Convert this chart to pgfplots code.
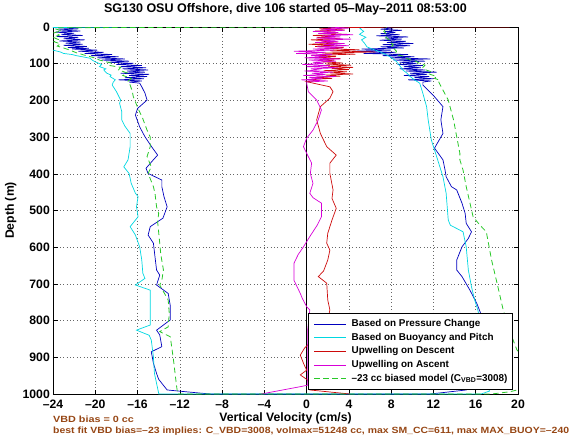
\documentclass[border=0pt]{standalone}
\usepackage{pgfplots}
\pgfplotsset{compat=1.18}
\usepackage{graphicx}
\usepackage{fontspec}
\setmainfont{Liberation Sans}
\definecolor{cBlue}{RGB}{0,0,190}
\definecolor{cCyan}{RGB}{0,215,225}
\definecolor{cRed}{RGB}{205,10,10}
\definecolor{cMag}{RGB}{215,0,215}
\definecolor{cGreen}{RGB}{40,200,40}
\definecolor{cBrown}{RGB}{150,70,20}
\begin{document}
\begin{tikzpicture}
\begin{axis}[
  scale only axis, width=465pt, height=367pt,
  xmin=-24, xmax=20, ymin=0, ymax=1000, y dir=reverse,
  xtick={-24,-20,-16,-12,-8,-4,0,4,8,12,16,20},
  xticklabels={–24,–20,–16,–12,–8,–4,0,4,8,12,16,20},
  ytick={0,100,200,300,400,500,600,700,800,900,1000},
  /pgf/number format/assume math mode=true,
  /pgf/number format/1000 sep={},
  grid=major,
  major grid style={black!60, line width=0.5pt, dash pattern=on 0.8pt off 2.6pt},
  tick align=inside, major tick length=4.5pt,
  tick style={black, line width=0.6pt},
  axis line style={black, line width=0.8pt},
  ticklabel style={font=\fontsize{12.2}{13}\selectfont\bfseries},
  xticklabel style={anchor=base, yshift=-14.3pt, inner sep=0pt},
  yticklabel style={anchor=east, inner sep=0pt, xshift=-3pt},
  xlabel={Vertical Velocity (cm/s)},
  ylabel={Depth (m)},
  label style={font=\fontsize{12.2}{13}\selectfont\bfseries},
  xlabel style={at={(axis description cs:0.5,-0.0755)}, anchor=base},
  ylabel style={at={(axis description cs:-0.0839,0.5)}, anchor=base, rotate=0},
  title={SG130 OSU Offshore, dive 106 started 05–May–2011 08:53:00},
  title style={font=\fontsize{12.5}{13}\selectfont\bfseries, at={(axis description cs:0.5,1.0237)}, anchor=base},
  legend style={at={(rel axis cs:0.989,0.2207)}, anchor=north east, draw=black, line width=0.6pt, fill=white,
    font=\fontsize{9.9}{10}\selectfont\bfseries, inner xsep=5.2pt, inner ysep=4pt, row sep=0pt, column sep=5pt,
    nodes={inner xsep=0pt, inner ysep=2.3pt, text height=7pt, text depth=2pt}},
  legend cell align=left,
  legend image code/.code={\draw[#1] (0pt,0pt) -- (32pt,0pt);},
]
\addplot[black, line width=0.8pt, forget plot] coordinates {(0,0) (0,1000)};
% Based on Pressure Change
\addplot[cBlue, line width=0.7pt] coordinates {
(-22.5,0) (-23.8,2) (-21.6,5) (-23.5,8) (-21.4,11) (-23.8,14) (-22.0,17) (-23.2,20) (-21.2,23) (-23.6,26) (-21.6,29) (-23.0,32) (-21.0,35) (-23.4,38) (-21.4,41) (-22.8,44) (-21.2,47) (-23.0,50) (-20.8,53) (-22.6,56) (-20.6,58)
(-22.2,60) (-19.8,63) (-21.6,66) (-19.2,69) (-21.0,72) (-18.4,75) (-20.4,78) (-17.8,81) (-19.8,84) (-17.2,87) (-19.4,90) (-16.8,93) (-18.8,96) (-16.4,99)
(-18.0,102) (-15.6,105) (-17.6,108) (-15.2,111) (-17.4,114) (-15.0,117) (-17.0,120) (-15.3,123) (-17.6,126) (-14.9,129) (-16.8,132) (-15.1,135) (-17.2,138) (-15.4,141) (-17.8,144) (-15.6,147) (-16.8,150) (-15.8,153)
(-15.6,163) (-15.3,180) (-15.1,199) (-16.0,222) (-16.2,240) (-15.8,272) (-15.3,299) (-14.7,325) (-14.1,349) (-14.6,365) (-15.2,385) (-15.0,399) (-13.7,417) (-13.7,435) (-13.5,462) (-13.2,490) (-13.6,521) (-14.8,544) (-15.0,567) (-14.5,589) (-14.35,626) (-14.2,662) (-13.9,676) (-14.2,703) (-13.1,726) (-12.9,760) (-12.9,798) (-14.2,826) (-13.9,839) (-13.7,871) (-14.7,885) (-14.5,916) (-14.2,944) (-14.0,960) (-13.2,989) (-9.9,998) (-9.0,1000)
(11.7,1000) (15.1,989) (16.0,970) (16.5,900) (16.8,850) (16.7,798) (16.4,775) (16.1,753) (15.45,717) (14.7,680) (14.2,662) (14.2,635) (14.7,599) (15.3,576) (15.6,558) (15.1,535) (15.0,508) (14.7,480) (14.2,444) (13.7,435) (13.2,408) (13.1,390) (12.9,362) (12.1,330) (12.9,290) (12.7,253) (12.9,217) (12.1,190) (11.0,158) (11.0,150)
(11.8,147) (9.6,144) (12.0,141) (10.2,138) (11.6,135) (9.2,132) (11.4,129) (9.8,126) (12.3,123) (9.4,120) (11.2,117) (8.8,114) (10.8,111) (9.2,108) (11.0,105) (8.6,102) (10.4,99) (8.8,96) (11.2,93) (8.2,90) (11.7,87) (7.9,84) (10.2,81) (7.2,78) (9.6,75) (5.4,72) (8.4,69) (4.4,66) (8.0,63) (5.2,60) (9.2,57) (7.0,54) (9.8,51) (7.2,48) (10.1,45) (7.6,42) (9.4,39) (6.9,36) (9.0,33) (7.4,30) (9.6,27) (6.6,24) (8.8,21) (7.0,18) (8.4,15) (7.4,12) (9.0,9) (7.0,6) (8.0,3) (7.5,0)
};
\addlegendentry{Based on Pressure Change}
% Based on Buoyancy and Pitch
\addplot[cCyan, line width=0.7pt] coordinates {
(-16,0) (-28,2) (-27,30) (-25,55) (-24.3,60) (-24.0,63) (-23.3,68) (-23.0,72) (-22.2,75) (-21.8,78) (-20.5,85) (-20.3,90) (-20.0,95) (-19.4,102) (-19.6,108) (-19.0,114) (-19.2,117) (-18.9,126) (-18.5,131) (-18.6,135) (-18.1,144) (-18.3,150) (-18.4,158) (-18.0,176) (-17.6,199) (-17.7,208) (-17.5,230) (-17.5,253) (-17.2,270) (-16.7,290) (-16.7,326) (-16.9,362) (-17.3,381) (-16.8,399) (-16.6,426) (-16.2,453) (-15.95,462) (-16.1,490) (-15.95,517) (-16.7,544) (-16.2,567) (-15.8,599) (-15.6,635) (-15.5,671) (-15.3,685) (-16.2,703) (-14.8,717) (-14.8,789) (-14.8,812) (-16.1,826) (-14.9,840) (-14.7,853) (-14.5,898) (-14.4,944) (-14.0,998) (-14.0,1000)
(16.5,1000) (17.3,992) (17.0,960) (16.8,900) (16.6,850) (16.4,800) (16.2,771) (15.9,744) (15.6,708) (15.3,662) (15.1,599) (14.8,558) (13.6,540) (13.4,526) (13.2,453) (12.9,408) (12.8,399) (12.4,362) (11.8,308) (11.5,253) (11.35,217) (11.0,181) (10.7,153) (10.2,144) (9.8,135) (9.5,126) (9.1,117) (8.8,105) (8.5,94) (7.9,81) (7.4,74) (6.9,67) (6.2,60) (5.7,54) (5.5,45) (5.2,35) (5.6,28) (5.0,20) (5.4,12) (5.05,4) (5.3,0)
};
\addlegendentry{Based on Buoyancy and Pitch}
% Upwelling on Descent
\addplot[cRed, line width=0.7pt] coordinates {
(19.2,0) (7.5,0.3) (3.0,2) (1.2,5) (3.6,8) (0.8,11) (2.8,14) (1.5,17) (3.8,20) (0.6,23) (2.5,26) (1.0,29) (3.2,32) (0.4,35) (2.2,38) (1.4,41) (3.0,44) (0.2,47) (2.6,50) (0.8,53) (3.5,56) (1.8,59) (5.0,62) (2.2,65) (6.5,68) (1.5,71) (4.6,74) (0.5,77) (2.8,80) (0.9,83) (3.2,86) (1.2,89) (2.6,92) (1.5,95) (3.4,98) (1.8,101) (4.2,104) (2.0,107) (4.4,110) (2.4,113) (4.0,116) (1.6,119) (3.8,122) (2.2,125) (4.4,128) (1.8,131) (3.2,134) (0.8,137) (2.4,140) (0.2,143) (1.2,146) (0.0,149)
(2.2,163) (2.5,176) (2.2,194) (1.3,217) (0.95,253) (1.3,290) (1.9,326) (2.8,349) (2.2,371) (2.2,399) (2.5,444) (2.4,467) (2.8,494) (2.4,526) (2.0,562) (1.9,589) (2.2,608) (2.0,635) (1.6,665) (1.1,680) (1.9,698) (2.0,744) (2.2,771) (2.0,800) (1.4,830) (0.5,855) (-0.2,875) (-0.6,894) (-0.3,916) (0.0,935) (-0.6,948) (0.1,962) (0.2,975) (0.3,989) (4.1,1000)
};
\addlegendentry{Upwelling on Descent}
% Upwelling on Ascent
\addplot[cMag, line width=0.7pt] coordinates {
(-4.3,1000) (-0.6,980) (0.1,976) (0.1,900) (0.1,826) (0.3,771) (0.0,762) (-0.4,740) (-0.6,726) (-0.9,708) (-1.2,690) (-1.2,660) (-1.2,644) (-0.8,620) (-0.3,599) (0.3,571) (1.0,540) (1.4,517) (1.4,480) (0.6,465) (0.3,453) (0.6,426) (0.35,399) (0.47,371) (0.0,344) (-0.3,326) (0.0,303) (0.6,281) (1.1,253) (1.4,226) (0.95,199) (0.16,176) (0.0,153)
(0.0,150) (2.0,147) (-0.5,144) (1.5,141) (0.2,138) (2.8,135) (-0.3,132) (1.8,129) (0.5,126) (2.5,123) (-0.2,120) (1.2,117) (0.4,114) (3.0,111) (0.0,108) (2.2,105) (-0.4,102) (1.6,99) (0.6,96) (2.8,93) (0.2,90) (3.2,87) (-0.2,84) (2.0,81) (0.4,78) (2.4,75) (-1.0,72) (1.8,69) (-1.2,66) (2.6,63) (0.6,60) (3.4,57) (1.0,54) (4.0,51) (1.6,48) (3.6,45) (0.8,42) (3.0,39) (1.2,36) (4.2,33) (0.9,30) (3.2,27) (1.5,24) (4.4,21) (1.1,18) (3.0,15) (0.6,12) (3.6,9) (1.4,6) (4.0,3) (2.0,0)
};
\addlegendentry{Upwelling on Ascent}
% model
\addplot[cGreen, line width=0.8pt, dash pattern=on 5.5pt off 3.5pt] coordinates {
(0,0) (-23.5,2) (-23.8,5) (-23.2,10) (-23.9,16) (-23.4,22) (-24.0,28) (-23.5,34) (-23.9,40) (-23.3,46) (-23.6,52) (-22.9,58) (-22.4,63) (-21.8,70) (-21.1,76) (-20.2,83) (-19.6,90) (-18.4,99) (-18.6,105) (-17.6,110) (-17.8,117) (-17.0,125) (-17.4,132) (-16.6,140) (-16.9,148) (-16.7,158) (-16.5,175) (-16.4,190) (-15.95,222) (-15.5,250) (-15.1,281) (-14.8,300) (-14.8,326) (-15.1,353) (-14.7,381) (-15.0,399) (-14.5,435) (-14.35,453) (-14.2,490) (-14.0,508) (-14.1,530) (-13.9,589) (-13.8,620) (-13.55,662) (-13.7,690) (-13.9,703) (-13.1,744) (-13.0,780) (-13.1,817) (-13.9,830) (-12.9,844) (-12.6,907) (-12.3,980) (-12.2,1000)
(17.5,1000) (19.2,994) (20.5,985) (21.0,950) (20.6,900) (19.9,880) (19.5,850) (18.9,800) (18.6,771) (18.1,708) (17.5,635) (17.0,558) (16.4,540) (15.75,517) (15.1,435) (14.8,390) (14.5,362) (14.5,344) (14.2,299) (13.9,253) (13.4,199) (12.9,172) (12.5,150) (12.6,145) (12.1,140) (12.3,135) (11.6,128) (11.8,122) (11.3,117) (11.0,110) (11.2,104) (10.6,98) (10.4,94) (9.9,90) (9.4,85) (9.2,80) (8.6,76) (8.4,72) (8.5,66) (8.3,60) (8.0,54) (8.2,48) (7.9,42) (7.8,35) (7.5,28) (7.6,20) (7.3,12) (7.5,6) (7.4,2) (7.6,0)
};
\addlegendentry{–23 cc biased model (C\textsubscript{VBD}=3008)}
\end{axis}
\node[anchor=base west, inner sep=0pt, text=cBrown, font=\fontsize{9}{10}\selectfont\bfseries] at ([yshift=-28.7pt]current axis.south west) {\scalebox{1.2}[1]{VBD bias = 0 cc}};
\node[anchor=base west, inner sep=0pt, text=cBrown, font=\fontsize{9}{10}\selectfont\bfseries] at ([yshift=-39.3pt]current axis.south west) {\scalebox{1.16}[1]{best fit VBD bias=–23 implies: C\_VBD=3008, volmax=51248 cc, max SM\_CC=611, max MAX\_BUOY=–240}};
\pgfresetboundingbox
\path[use as bounding box] ([xshift=-53pt,yshift=-46pt]current axis.south west) rectangle ([xshift=52pt,yshift=27pt]current axis.north east);
\end{tikzpicture}
\end{document}
